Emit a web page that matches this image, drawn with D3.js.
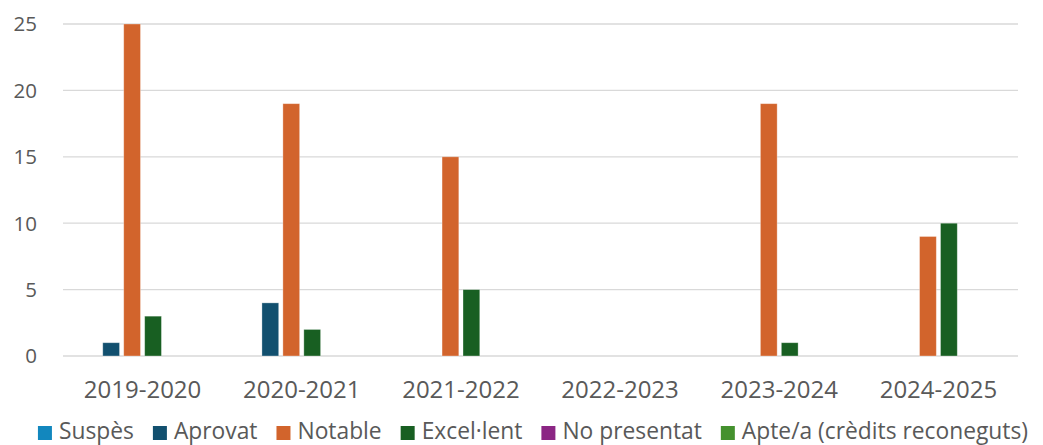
<!DOCTYPE html>
<html>
<head>
<meta charset="utf-8">
<script src="https://cdn.jsdelivr.net/npm/d3@7"></script>
<style>
  body { margin: 0; background: #fff; }
  text { font-family: "Open Sans", Lato, sans-serif; fill: #595959; }
</style>
</head>
<body>
<script>
const years = ["2019-2020", "2020-2021", "2021-2022", "2022-2023", "2023-2024", "2024-2025"];
const seriesNames = ["Suspès", "Aprovat", "Notable", "Excel·lent", "No presentat", "Apte/a (crèdits reconeguts)"];
const suspes = [0, 0, 0, 0, 0, 0];
const aprovat = [1, 4, 0, 0, 0, 0];
const notable = [25, 19, 15, 0, 19, 9];
const excellent = [3, 2, 5, 0, 1, 10];
const noPresentat = [0, 0, 0, 0, 0, 0];
const apte = [0, 0, 0, 0, 0, 0];
const yTicks = [0, 5, 10, 15, 20, 25];
const colors = ["#1287be", "#12506f", "#d2642c", "#185f22", "#8b2684", "#44912e"];

const allSeries = [suspes, aprovat, notable, excellent, noPresentat, apte];

const width = 1043, height = 445;
const svg = d3.select("body").append("svg")
    .attr("width", width)
    .attr("height", height);

const x0 = d3.scaleBand().domain(years).range([63, 1018]).paddingInner(0.21).paddingOuter(0.105);
const x1 = d3.scaleBand().domain(seriesNames).range([0, x0.bandwidth()]).paddingInner(0.2).paddingOuter(0.1);
const y = d3.scaleLinear().domain([0, 25]).range([356, 24]);

// gridlines
svg.append("g")
    .selectAll("line")
    .data(yTicks)
    .enter().append("line")
    .attr("x1", 63).attr("x2", 1018)
    .attr("y1", d => y(d)).attr("y2", d => y(d))
    .attr("stroke", "#d9d9d9")
    .attr("stroke-width", 1.3);

// y labels
svg.append("g")
    .selectAll("text")
    .data(yTicks)
    .enter().append("text")
    .attr("x", 37)
    .attr("y", d => y(d))
    .attr("dy", "0.36em")
    .attr("text-anchor", "end")
    .style("font-size", "20.5px")
    .text(d => d);

// bars
const groups = svg.append("g")
    .selectAll("g")
    .data(years)
    .enter().append("g")
    .attr("transform", d => "translate(" + x0(d) + ",0)");

groups.selectAll("rect")
    .data((d, i) => seriesNames.map((s, j) => ({s: s, v: allSeries[j][i], c: colors[j]})))
    .enter().append("rect")
    .filter(d => d.v > 0)
    .attr("x", d => x1(d.s))
    .attr("width", x1.bandwidth())
    .attr("y", d => y(d.v))
    .attr("height", d => y(0) - y(d.v))
    .attr("fill", d => d.c)
    .attr("stroke", "#fff")
    .attr("stroke-opacity", 0.4)
    .attr("stroke-width", 0.8);

// x labels
svg.append("g")
    .selectAll("text")
    .data(years)
    .enter().append("text")
    .attr("x", d => x0(d) + x0.bandwidth() / 2)
    .attr("y", 398)
    .attr("text-anchor", "middle")
    .style("font-size", "24px")
    .text(d => d);

// legend
const legend = svg.append("g");
let lx = 0;
seriesNames.forEach(function(name, i) {
    const item = legend.append("g").attr("transform", "translate(" + lx + ",0)");
    item.append("rect")
        .attr("x", 0).attr("y", 426)
        .attr("width", 14).attr("height", 14)
        .attr("fill", colors[i]);
    const t = item.append("text")
        .attr("x", 21)
        .attr("y", 438.5)
        .style("font-size", "22.8px")
        .text(name);
    lx += 21 + t.node().getComputedTextLength() + 19;
});
const legendWidth = lx - 19;
legend.attr("transform", "translate(" + (533 - legendWidth / 2) + ",0)");
</script>
</body>
</html>
